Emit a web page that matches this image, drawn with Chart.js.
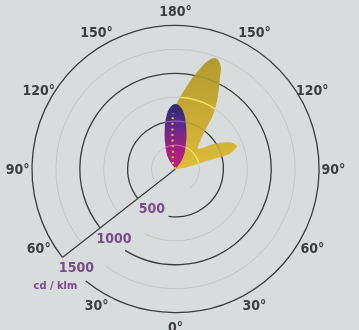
<!DOCTYPE html>
<html>
<head>
<meta charset="utf-8">
<script src="https://cdn.jsdelivr.net/npm/chart.js@4.4.1/dist/chart.umd.min.js"></script>
<style>
html, body { margin: 0; padding: 0; background: #d8dcdd; }
#wrap { width: 359px; height: 330px; }
</style>
</head>
<body>
<div id="wrap"><canvas id="polar"></canvas></div>
<script>
// angles in degrees, clockwise from straight up (the 180° mark), values in cd/klm
const yellowAngle = [0, -23, -7.5, -6, -4, -2.6, 0.4, 3.6, 9.5, 13.9, 16.5, 19.8, 23.6, 26, 30.3, 34.6, 37.1, 41.2, 48, 56.5, 63.5, 69.2, 72.5, 74.8, 75.5, 82, 0];
const yellowValue = [0, 68, 200, 305, 460, 585, 672, 750, 935, 1085, 1175, 1232, 1178, 1055, 875, 690, 525, 400, 318, 470, 625, 684, 630, 555, 335, 110, 0];
const hiddenCount = 6; // part of the yellow curve that runs behind the purple one

const purpleAngle = [0, -34, -23, -15.5, -9.5, -4.5, 0, 4.5, 9.5, 15.5, 23, 34, 0];
const purpleValue = [0, 135, 273, 423, 567, 652, 679, 652, 567, 423, 273, 135, 0];

const ringValues = [250, 500, 750, 1000, 1250, 1500];
const ringLabels = [500, 1000, 1500];
const unitLabel = 'cd / klm';
const angleTicks = [0, 30, 60, 90, 120, 150, 180];

const cutAngle = 142 * Math.PI / 180; // radial line, canvas angle
const gapWidth = 33;

function toXY(angles, values) {
	return angles.map(function(a, i) {
		const t = a * Math.PI / 180;
		return {x: values[i] * Math.sin(t), y: values[i] * Math.cos(t)};
	});
}

function centre(chart) {
	const xs = chart.scales.x, ys = chart.scales.y;
	const x = xs.getPixelForValue(0), y = ys.getPixelForValue(0);
	return {x: x, y: y, rad: function(v) { return xs.getPixelForValue(v) - x; }};
}

function vGradient(context, top, stops) {
	const chart = context.chart;
	if (!chart.chartArea || !chart.scales.y) return stops[stops.length - 1][1];
	const ys = chart.scales.y;
	const g = chart.ctx.createLinearGradient(0, ys.getPixelForValue(top), 0, ys.getPixelForValue(0));
	stops.forEach(function(s) { g.addColorStop(s[0], s[1]); });
	return g;
}

const ringTint = {
	1: {light: 'rgba(255,240,110,0.8)', dark: 'rgba(120,140,70,0.45)'},
	0: {light: 'rgba(255,110,200,0.65)', dark: 'rgba(190,140,230,0.55)'}
};

const polarGrid = {
	id: 'polarGrid',
	beforeDatasetsDraw(chart) {
		const ctx = chart.ctx;
		const c = centre(chart);
		ctx.save();
		ringValues.forEach(function(v) {
			const r = c.rad(v);
			const gap = r > gapWidth ? Math.asin(gapWidth / r) : Math.PI / 2;
			const major = v % 500 === 0;
			ctx.beginPath();
			ctx.arc(c.x, c.y, r, cutAngle, cutAngle - gap + 2 * Math.PI);
			ctx.strokeStyle = major ? '#3b3b3b' : '#c3c6c7';
			ctx.lineWidth = major ? 1.3 : 1;
			ctx.stroke();
		});
		const rMax = c.rad(ringValues[ringValues.length - 1]);
		ctx.beginPath();
		ctx.moveTo(c.x, c.y);
		ctx.lineTo(c.x + rMax * Math.cos(cutAngle), c.y + rMax * Math.sin(cutAngle));
		ctx.strokeStyle = '#3b3b3b';
		ctx.lineWidth = 1.2;
		ctx.stroke();
		ctx.restore();
	},
	afterDatasetDraw(chart, args) {
		const tint = ringTint[args.index];
		if (!tint || !args.meta.dataset) return;
		const ctx = chart.ctx;
		const c = centre(chart);
		ctx.save();
		ctx.beginPath();
		args.meta.dataset.path(ctx);
		ctx.closePath();
		ctx.clip();
		ringValues.forEach(function(v) {
			ctx.beginPath();
			ctx.arc(c.x, c.y, c.rad(v), 0, 2 * Math.PI);
			ctx.strokeStyle = v % 500 === 0 ? tint.dark : tint.light;
			ctx.lineWidth = 1.3;
			ctx.stroke();
		});
		ctx.restore();
	},
	afterDraw(chart) {
		const ctx = chart.ctx;
		const c = centre(chart);
		ctx.save();
		ctx.textAlign = 'center';
		ctx.textBaseline = 'middle';
		ctx.font = 'bold 14px "Liberation Sans Narrow", "DejaVu Sans Condensed", sans-serif';
		ctx.fillStyle = '#3d3d3d';
		const rl = c.rad(1650);
		angleTicks.forEach(function(g) {
			const sides = (g === 0 || g === 180) ? [1] : [1, -1];
			sides.forEach(function(s) {
				const a = (90 - s * g) * Math.PI / 180;
				ctx.fillText(g + '°', c.x + rl * Math.cos(a), c.y + rl * Math.sin(a) + 1);
			});
		});
		ctx.fillStyle = '#7a4b8d';
		let last = null;
		ringLabels.forEach(function(v) {
			const r = c.rad(v);
			const px = c.x + r * Math.cos(cutAngle), py = c.y + r * Math.sin(cutAngle);
			ctx.fillText(String(v), px + 14, py + 11);
			last = {x: px, y: py};
		});
		ctx.font = 'bold 11px "Liberation Sans Narrow", "DejaVu Sans Condensed", sans-serif';
		ctx.fillText(unitLabel, last.x - 7, last.y + 29);
		ctx.restore();
	}
};

const ctx = document.getElementById('polar');
new Chart(ctx, {
	type: 'scatter',
	data: {
		datasets: [{
			// C90 / C270
			data: toXY(purpleAngle, purpleValue),
			showLine: true,
			tension: 0.4,
			borderWidth: 0,
			pointRadius: 0,
			fill: 'shape',
			backgroundColor: function(context) {
				return vGradient(context, 679, [[0, '#2b2c6e'], [0.28, '#552a8a'], [0.55, '#8c2485'], [0.8, '#af207f'], [1, '#bb1f7d']]);
			},
			order: 1
		}, {
			// C0 / C180
			data: toXY(yellowAngle, yellowValue),
			showLine: true,
			tension: 0.35,
			borderWidth: 0,
			pointRadius: 0,
			fill: 'shape',
			backgroundColor: function(context) {
				return vGradient(context, 1160, [[0, '#b29a2e'], [0.5, '#c8aa33'], [1, '#ddbc38']]);
			},
			order: 2
		}, {
			data: toXY(yellowAngle.slice(0, hiddenCount), yellowValue.slice(0, hiddenCount)),
			showLine: true,
			tension: 0.35,
			borderColor: '#d8bb3c',
			borderWidth: 2.2,
			borderDash: [2, 3.6],
			pointRadius: 0,
			fill: false,
			order: 0
		}]
	},
	options: {
		responsive: true,
		maintainAspectRatio: false,
		animation: false,
		devicePixelRatio: 1,
		events: [],
		layout: { padding: 0 },
		scales: {
			x: { type: 'linear', min: -1834, max: 1917, display: false },
			y: { type: 'linear', min: -1682, max: 1766, display: false }
		},
		plugins: {
			legend: { display: false },
			tooltip: { enabled: false }
		}
	},
	plugins: [polarGrid]
});
</script>
</body>
</html>
